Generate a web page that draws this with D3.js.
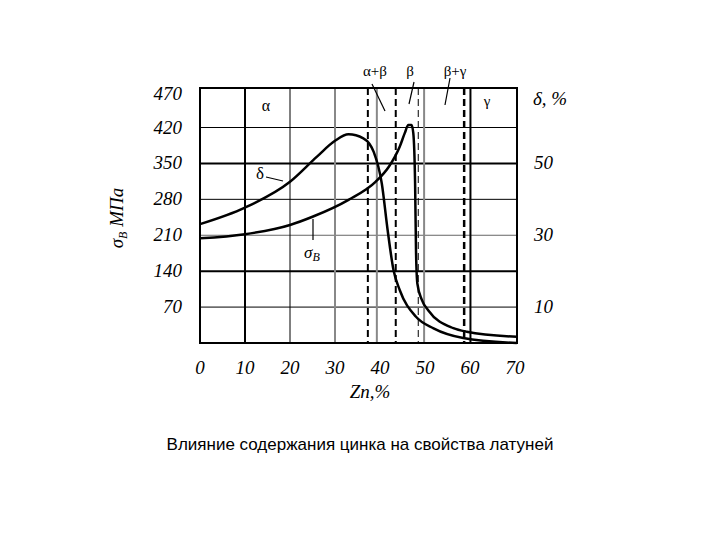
<!DOCTYPE html><html><head><meta charset="utf-8"><script src="https://cdn.jsdelivr.net/npm/d3@7"></script>
<style>body{margin:0;background:#fff}</style></head><body><svg id="c" width="720" height="540"></svg>
<script>
const xTicks=[0,10,20,30,40,50,60,70];
const leftTicks=[70,140,210,280,350,420,470];
const rightTicks=[10,30,50];
const deltaX=[0,10,20,26,30,33,36.3,38.6,40.4,41.7,43,44.4,48,51.9,58.5,70.4];
const deltaV=[33.1,37.7,44.9,51.9,56.3,58.1,57,53.2,44.4,31.4,20.3,14.7,7.3,4.1,1.4,0];
const sigmaX=[0,10,20,25,33,39,42,44.4,45.5,46.3,47,47.4,47.8,48,48.3,49.3,50.7,56.3,59.3,70.4];
const sigmaV=[204,212,230,246,279,314,344,383,409,425,425,409,311,181,116,84,64,29,22,12];
const grid=[{x:10,c:"#000",w:2},{x:20,c:"#000",w:1},{x:30,c:"#888",w:2},{x:39.3,c:"#888",w:2},{x:49.8,c:"#888",w:2},{x:60.1,c:"#000",w:2}];
const dashes=[{x:37.3,w:2},{x:43.5,w:2},{x:48.5,w:1},{x:58.7,w:2.5}];
const hgrid=[{v:70,w:1},{v:140,w:2},{v:210,w:1,c:"#666"},{v:280,w:1},{v:350,w:2},{v:420,w:1}];
const svg=d3.select("#c");
const x=d3.scaleLinear().domain([0,70]).range([200,515]);
const y=d3.scaleLinear().domain([0,497]).range([343,88]);
const yr=d3.scaleLinear().domain([0,71]).range([343,88]);
const L=[200,517];
const g=svg.append("g");
hgrid.forEach(h=>g.append("line").attr("x1",L[0]).attr("x2",L[1]).attr("y1",y(h.v)).attr("y2",y(h.v)).attr("stroke",h.c||"#000").attr("stroke-width",h.w));
grid.forEach(d=>g.append("line").attr("x1",x(d.x)).attr("x2",x(d.x)).attr("y1",88).attr("y2",343).attr("stroke",d.c).attr("stroke-width",d.w));
dashes.forEach(d=>g.append("line").attr("x1",x(d.x)).attr("x2",x(d.x)).attr("y1",88).attr("y2",343).attr("stroke","#000").attr("stroke-width",d.w).attr("stroke-dasharray","7,4"));
g.append("rect").attr("x",200).attr("y",88).attr("width",317).attr("height",255).attr("fill","none").attr("stroke","#000").attr("stroke-width",2);
const line=(xs,vs,sc)=>d3.line().curve(d3.curveMonotoneX).x((d,i)=>x(xs[i])).y(d=>sc(d))(vs);
g.append("path").attr("d",line(deltaX,deltaV,yr)).attr("fill","none").attr("stroke","#000").attr("stroke-width",2.5);
g.append("path").attr("d",line(sigmaX,sigmaV,y)).attr("fill","none").attr("stroke","#000").attr("stroke-width",2.5);
const ff="Liberation Serif, serif";
const T=(t,px,py,anchor,size,style)=>svg.append("text").attr("x",px).attr("y",py).attr("text-anchor",anchor||"middle").attr("font-family",style==="sans"?"Liberation Sans, Arial":ff).attr("font-style",style==="sans"?"normal":"italic").attr("font-size",size||19).text(t);
leftTicks.forEach(v=>T(v,182,(v===470?94:y(v))+6,"end"));
rightTicks.forEach(v=>T(v,534,yr(v)+6,"start"));
xTicks.forEach(v=>T(v,x(v),374));
T("Zn,%",370,398,"middle",19);
T("δ, %",550,105,"middle",19);
const yl=svg.append("text").attr("transform","translate(123,218) rotate(-90)").attr("text-anchor","middle").attr("font-family",ff).attr("font-style","italic").attr("font-size",19);
yl.append("tspan").text("σ");yl.append("tspan").attr("font-size",12).attr("dy",4).text("B");yl.append("tspan").attr("dy",-4).text(" МПа");
const up=(t,px,py,s)=>svg.append("text").attr("x",px).attr("y",py).attr("text-anchor","middle").attr("font-family",ff).attr("font-size",s||16).text(t);
up("α",266,111);up("δ",260,179,17);up("α+β",375,76,15);up("β",410,76,15);up("β+γ",455,76,15);up("γ",487,106,15);
const sl=svg.append("text").attr("x",304).attr("y",258).attr("font-family",ff).attr("font-style","italic").attr("font-size",17);
sl.append("tspan").text("σ");sl.append("tspan").attr("font-size",12).attr("dy",3).text("B");
const seg=(a,b,c,d)=>svg.append("line").attr("x1",a).attr("y1",b).attr("x2",c).attr("y2",d).attr("stroke","#000").attr("stroke-width",1.2);
seg(266,177,283,181);seg(313,240,313,219);seg(372,84,385,111);seg(414,82,409,104);seg(450,78,445,105);
T("Влияние содержания цинка на свойства латуней",360,450,"middle",17,"sans");
</script></body></html>
